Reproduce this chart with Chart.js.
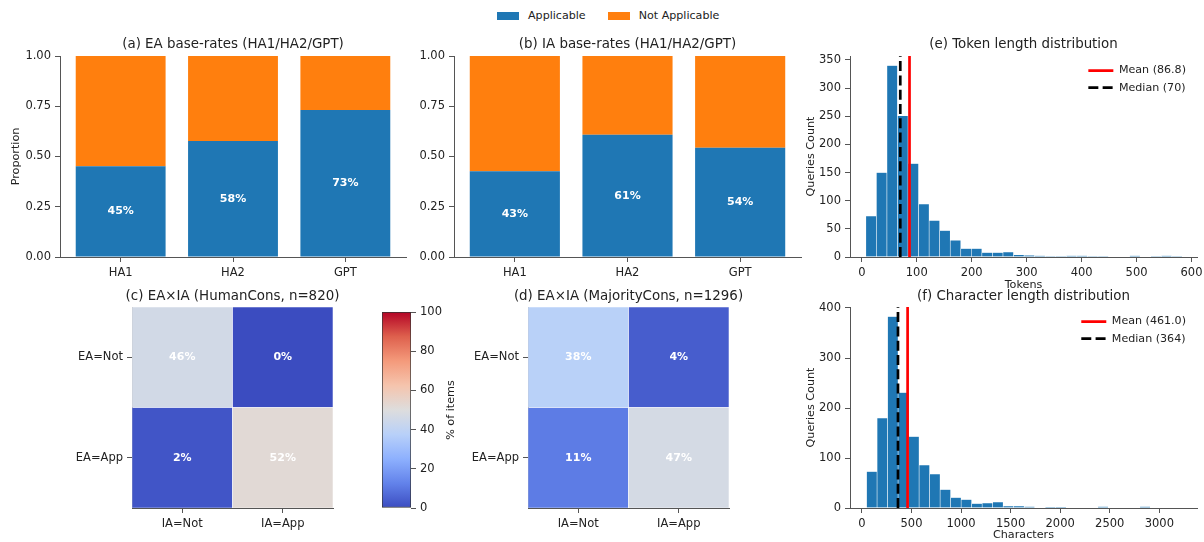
<!DOCTYPE html>
<html>
<head>
<meta charset="utf-8">
<script src="https://cdn.jsdelivr.net/npm/chart.js@4.4.1/dist/chart.umd.min.js"></script>
<style>
  body { margin: 0; background: #fff; width: 1204px; height: 542px; position: relative; overflow: hidden; }
  canvas { position: absolute; }
  #topLegend { position: absolute; top: 9px; left: 497px; font: 11.1px 'DejaVu Sans', sans-serif; color: #222; display: flex; align-items: center; white-space: nowrap; }
  #topLegend .sw { display: inline-block; width: 22px; height: 8px; margin-right: 9px; }
</style>
</head>
<body>
<div id="topLegend">
  <span class="sw" style="background:#1f77b4"></span><span style="margin-right:22px">Applicable</span>
  <span class="sw" style="background:#ff7f0e"></span><span>Not Applicable</span>
</div>
<script>
// ---- data ----
const raters = ['HA1', 'HA2', 'GPT'];
const eaApplicable = [0.452, 0.577, 0.731];
const iaApplicable = [0.427, 0.608, 0.543];
const proportionTicks = [0, 0.25, 0.5, 0.75, 1];

const rowLabels = ['EA=Not', 'EA=App'];
const colLabels = ['IA=Not', 'IA=App'];
const humanCons = [[46, 0], [2, 52]];
const majorityCons = [[38, 4], [11, 47]];
const colorbarTicks = [0, 20, 40, 60, 80, 100];

const tokenBinStart = 7.3, tokenBinWidth = 19.2;
const tokenCounts = [73, 150, 340, 251, 166, 94, 65, 47, 30, 15, 15, 8, 8, 9, 4, 3, 2, 1, 1, 2, 2, 1, 1, 0, 0, 2, 0, 1, 2, 1];
const tokenMean = 86.8, tokenMedian = 70;
const tokenTicks = [0, 100, 200, 300, 400, 500, 600];
const tokenCountTicks = [0, 50, 100, 150, 200, 250, 300, 350];
const tokenCountMax = 357;

const charBinStart = 47, charBinWidth = 106;
const charCounts = [73, 180, 383, 231, 143, 86, 68, 37, 21, 17, 9, 10, 12, 4, 4, 3, 0, 2, 2, 0, 0, 0, 3, 0, 0, 0, 3, 0, 0, 1];
const charMean = 461.0, charMedian = 364;
const charTicks = [0, 500, 1000, 1500, 2000, 2500, 3000];
const charCountTicks = [0, 100, 200, 300, 400];
const charCountMax = 402;

// ---- styling ----
const BLUE = '#1f77b4', ORANGE = '#ff7f0e', INK = '#222', SPINE = '#555';
const FONT = "'DejaVu Sans', sans-serif";
Chart.defaults.font.family = FONT;
Chart.defaults.font.size = 11.5;
Chart.defaults.color = INK;
Chart.defaults.animation = false;
Chart.defaults.plugins.legend.display = false;
Chart.defaults.plugins.tooltip.enabled = false;

// matplotlib coolwarm
const coolwarm = [
  [0.0, [59, 76, 192]], [0.125, [98, 130, 234]], [0.25, [141, 176, 254]],
  [0.375, [184, 208, 249]], [0.5, [221, 221, 221]], [0.625, [245, 196, 173]],
  [0.75, [244, 154, 123]], [0.875, [222, 96, 77]], [1.0, [180, 4, 38]],
];
function cmap(t) {
  t = Math.max(0, Math.min(1, t));
  for (let i = 1; i < coolwarm.length; i++) {
    const [t1, c1] = coolwarm[i], [t0, c0] = coolwarm[i - 1];
    if (t <= t1) {
      const f = (t - t0) / (t1 - t0);
      const c = c0.map((v, j) => Math.round(v + (c1[j] - v) * f));
      return `rgb(${c[0]},${c[1]},${c[2]})`;
    }
  }
}

// canvas placed so that the chart area lands on box = [l, t, r, b]
function mount(box, pad) {
  const c = document.createElement('canvas');
  const w = box[2] - box[0] + pad[0] + pad[2];
  const h = box[3] - box[1] + pad[1] + pad[3];
  c.width = w; c.height = h;
  c.style.left = (box[0] - pad[0]) + 'px';
  c.style.top = (box[1] - pad[1]) + 'px';
  c.style.width = w + 'px'; c.style.height = h + 'px';
  document.body.appendChild(c);
  return c;
}

function mkAxis(o) {
  const s = {
    type: o.type || 'linear',
    offset: false,
    grid: { drawOnChartArea: false, tickLength: 5, color: SPINE, offset: false },
    border: { display: true, color: SPINE },
    ticks: { padding: 4, autoSkip: false, maxRotation: 0, color: INK, callback: o.fmt || (v => String(v)) },
    afterFit: sc => {
      if (sc.isHorizontal()) sc.height = o.size; else sc.width = o.size;
      sc.paddingLeft = sc.paddingRight = sc.paddingTop = sc.paddingBottom = 0;
    },
  };
  if (o.min !== undefined) { s.min = o.min; s.max = o.max; }
  if (o.at) s.afterBuildTicks = sc => { sc.ticks = o.at.map(v => ({ value: v })); };
  if (o.position) s.position = o.position;
  if (o.reverse) s.reverse = true;
  if (o.stacked) s.stacked = true;
  if (o.title) s.title = { display: true, text: o.title, padding: 0, font: { size: 11.2 } };
  return s;
}

function panelTitle(text, gap) {
  return {
    id: 'panelTitle',
    afterDraw(chart) {
      const { ctx, chartArea: ca } = chart;
      ctx.save();
      ctx.font = '13.4px ' + FONT;
      ctx.fillStyle = INK;
      ctx.textAlign = 'center';
      ctx.textBaseline = 'alphabetic';
      ctx.fillText(text, (ca.left + ca.right) / 2, ca.top - gap);
      ctx.restore();
    }
  };
}

function valueLabels(dsIndex, fmt) {
  return {
    id: 'valueLabels',
    afterDatasetsDraw(chart) {
      const ctx = chart.ctx;
      const meta = chart.getDatasetMeta(dsIndex);
      const data = chart.data.datasets[dsIndex].data;
      ctx.save();
      ctx.font = 'bold 11px ' + FONT;
      ctx.fillStyle = '#fff';
      ctx.textAlign = 'center';
      ctx.textBaseline = 'middle';
      meta.data.forEach((el, i) => ctx.fillText(fmt(data[i]), el.x, (el.y + el.base) / 2));
      ctx.restore();
    }
  };
}

// legend sits inside the plot, top right
const legendInside = {
  id: 'legendInside',
  afterLayout(chart) {
    const lg = chart.legend, ca = chart.chartArea;
    if (!lg || !lg.columnSizes || !lg.columnSizes.length) return;
    const pad = lg.options.labels.padding;
    lg.left = ca.right - 11 - pad - lg.columnSizes[0].width;
    lg.right = lg.left + lg.width;
    lg.top = ca.top + 3;
    lg.bottom = lg.top + lg.height;
  }
};

// ---- (a), (b) stacked base-rate bars ----
function baseRates(box, pad, title, values, ylabel) {
  new Chart(mount(box, pad), {
    type: 'bar',
    data: {
      datasets: [
        { label: 'Applicable', data: values.map((v, i) => ({ x: i, y: v })), backgroundColor: BLUE,
          barPercentage: 0.8, categoryPercentage: 1 },
        { label: 'Not Applicable', data: values.map((v, i) => ({ x: i, y: 1 - v })), backgroundColor: ORANGE,
          barPercentage: 0.8, categoryPercentage: 1 },
      ]
    },
    options: {
      responsive: false,
      layout: { padding: { left: 0, top: pad[1], right: pad[2], bottom: 0 } },
      scales: {
        x: mkAxis({ min: -0.54, max: 2.54, at: [0, 1, 2], fmt: v => raters[v], size: pad[3], stacked: true }),
        y: mkAxis({ min: 0, max: 1, at: proportionTicks, fmt: v => v.toFixed(2), size: pad[0], stacked: true, title: ylabel }),
      },
    },
    plugins: [panelTitle(title, 8.5), valueLabels(0, d => Math.round(d.y * 100) + '%')],
  });
}
baseRates([60, 56, 406, 257], [51, 30, 8, 28], '(a) EA base-rates (HA1/HA2/GPT)', eaApplicable, 'Proportion');
baseRates([454, 56, 801, 257], [50, 30, 8, 28], '(b) IA base-rates (HA1/HA2/GPT)', iaApplicable, null);

// ---- (c), (d) EA x IA heatmaps ----
function heatmap(box, pad, title, matrix) {
  const cells = [];
  matrix.forEach((row, r) => row.forEach((v, c) => cells.push({ x: c, y: [r - 0.5, r + 0.5], v })));
  new Chart(mount(box, pad), {
    type: 'bar',
    data: {
      datasets: [{
        data: cells,
        backgroundColor: cells.map(d => cmap(d.v / 100)),
        borderColor: 'rgba(255,255,255,0.7)', borderWidth: 0.6, borderSkipped: false,
        barPercentage: 1, categoryPercentage: 1,
      }]
    },
    options: {
      responsive: false,
      layout: { padding: { left: 0, top: pad[1], right: pad[2], bottom: 0 } },
      scales: {
        x: mkAxis({ min: -0.5, max: 1.5, at: [0, 1], fmt: v => colLabels[v], size: pad[3] }),
        y: mkAxis({ min: -0.5, max: 1.5, at: [0, 1], fmt: v => rowLabels[v], size: pad[0], reverse: true }),
      },
    },
    plugins: [panelTitle(title, 7), valueLabels(0, d => d.v + '%')],
  });
}
heatmap([132, 307, 333, 508], [70, 30, 40, 30], '(c) EA\u00d7IA (HumanCons, n=820)', humanCons);
heatmap([528, 307, 729, 508], [70, 30, 40, 30], '(d) EA\u00d7IA (MajorityCons, n=1296)', majorityCons);

// ---- colour bar ----
(function () {
  const box = [382, 312, 411, 508], pad = [2, 12, 51, 12];
  new Chart(mount(box, pad), {
    type: 'bar',
    data: {
      labels: [''],
      datasets: [{
        data: [[colorbarTicks[0], colorbarTicks[colorbarTicks.length - 1]]],
        backgroundColor: ctx => {
          const ca = ctx.chart.chartArea;
          if (!ca) return BLUE;
          const g = ctx.chart.ctx.createLinearGradient(0, ca.bottom, 0, ca.top);
          coolwarm.forEach(([t, c]) => g.addColorStop(t, `rgb(${c[0]},${c[1]},${c[2]})`));
          return g;
        },
        borderColor: '#333', borderWidth: 1, borderSkipped: false,
        barPercentage: 1, categoryPercentage: 1,
      }]
    },
    options: {
      responsive: false,
      layout: { padding: { left: pad[0], top: pad[1], right: 0, bottom: pad[3] } },
      scales: {
        x: { type: 'category', display: false },
        y: Object.assign(mkAxis({ min: 0, max: 100, at: colorbarTicks, size: pad[2], position: 'right' }),
                         { border: { display: false } }),
      },
    },
    plugins: [{
      id: 'cbLabel',
      afterDraw(chart) {
        const { ctx, chartArea: ca } = chart;
        ctx.save();
        ctx.translate(ca.right + 40, (ca.top + ca.bottom) / 2);
        ctx.rotate(-Math.PI / 2);
        ctx.font = '11.2px ' + FONT;
        ctx.fillStyle = INK;
        ctx.textAlign = 'center';
        ctx.textBaseline = 'middle';
        ctx.fillText('% of items', 0, 0);
        ctx.restore();
      }
    }],
  });
})();

// ---- (e), (f) length histograms ----
function histogram(box, pad, title, counts, binStart, binWidth, mean, median, xMin, xMax, xTicks, yMax, yTicks, xlabel) {
  new Chart(mount(box, pad), {
    type: 'bar',
    data: {
      datasets: [
        { type: 'line', label: `Mean (${mean.toFixed(1)})`, data: [{ x: mean, y: 0 }, { x: mean, y: yMax }],
          borderColor: 'red', borderWidth: 2.7, pointRadius: 0, fill: false },
        { type: 'line', label: `Median (${median})`, data: [{ x: median, y: 0 }, { x: median, y: yMax }],
          borderColor: '#000', borderWidth: 2.7, borderDash: [10, 4.3], pointRadius: 0, fill: false },
        { type: 'bar', label: 'count', data: counts.map((n, k) => ({ x: binStart + (k + 0.5) * binWidth, y: n })),
          backgroundColor: BLUE, borderColor: 'rgba(255,255,255,0.45)', borderWidth: 0.6,
          barPercentage: 1, categoryPercentage: 1 },
      ]
    },
    options: {
      responsive: false,
      layout: { padding: { left: 0, top: pad[1], right: pad[2], bottom: 0 } },
      scales: {
        x: mkAxis({ min: xMin, max: xMax, at: xTicks, size: pad[3], title: xlabel }),
        y: mkAxis({ min: 0, max: yMax, at: yTicks, size: pad[0], title: 'Queries Count' }),
      },
      plugins: {
        legend: {
          display: true, position: 'chartArea', align: 'start',
          labels: {
            usePointStyle: true, pointStyleWidth: 25, padding: 6, color: INK,
            font: { size: 11.1 },
            generateLabels: chart => chart.data.datasets
              .map((ds, i) => ({ ds, i }))
              .filter(o => o.ds.type === 'line')
              .map(o => ({
                text: o.ds.label, datasetIndex: o.i, pointStyle: 'line',
                strokeStyle: o.ds.borderColor, fillStyle: o.ds.borderColor,
                lineWidth: o.ds.borderWidth, lineDash: o.ds.borderDash || [], fontColor: INK,
              })),
          },
        },
      },
    },
    plugins: [panelTitle(title, title.startsWith('(e)') ? 8.5 : 7), legendInside],
  });
}
histogram([850, 56, 1197, 257], [46, 30, 7, 35], '(e) Token length distribution', tokenCounts,
  tokenBinStart, tokenBinWidth, tokenMean, tokenMedian, -21.5, 610, tokenTicks, tokenCountMax, tokenCountTicks, 'Tokens');
histogram([850, 307, 1197, 508], [46, 30, 7, 34], '(f) Character length distribution', charCounts,
  charBinStart, charBinWidth, charMean, charMedian, -120, 3380, charTicks, charCountMax, charCountTicks, 'Characters');
</script>
</body>
</html>
